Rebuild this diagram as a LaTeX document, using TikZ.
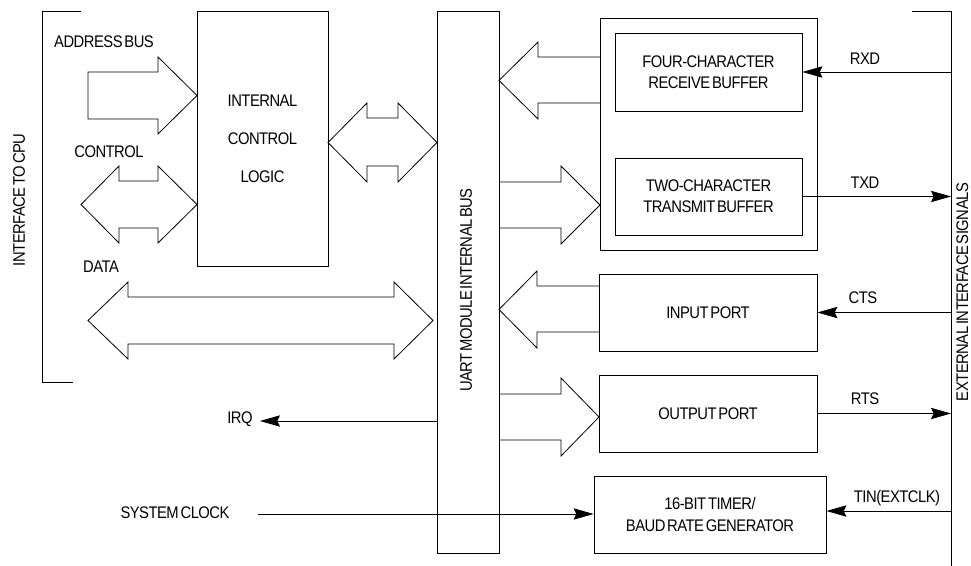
\documentclass[tikz,border=0pt]{standalone}
\usepackage{fontspec}
\setmainfont{Liberation Sans}[FakeStretch=0.88,LetterSpace=-3,WordSpace=0.5]
\usetikzlibrary{arrows.meta}
\tikzset{
  every node/.style={font=\fontsize{12.6}{16}\selectfont, inner sep=0pt},
  box/.style={draw, line width=0.6pt},
  fat/.style={draw, line width=0.6pt, line join=miter},
  wire/.style={line width=0.6pt},
  sig/.style={line width=0.6pt, -{Stealth[length=15pt,width=8.5pt,inset=2pt]}},
}
\begin{document}
\begin{tikzpicture}[x=0.75pt,y=-0.75pt]
\useasboundingbox (0,0) rectangle (971,566);
% boxes
\node[box, minimum width=98.25pt, minimum height=191.25pt, align=center] (ctrl) at (262.5,138.5)
  {INTERNAL\\[12.5pt]CONTROL\\[12.5pt]LOGIC};
\node[box, minimum width=46.5pt, minimum height=406.5pt] (bus) at (468,282) {};
\node[rotate=90] (buslabel) at (466,290) {UART MODULE INTERNAL BUS};
\node[box, minimum width=162.75pt, minimum height=174pt] (outer) at (708.5,134) {};
\node[box, minimum width=140.25pt, minimum height=58.5pt, align=center] (rx) at (708.5,72)
  {FOUR-CHARACTER\\RECEIVE BUFFER};
\node[box, minimum width=140.25pt, minimum height=57.75pt, align=center] (tx) at (708.5,196.5)
  {TWO-CHARACTER\\TRANSMIT BUFFER};
\node[box, minimum width=163.5pt, minimum height=57.75pt] (inport) at (708,312.5) {INPUT PORT};
\node[box, minimum width=163.5pt, minimum height=57.75pt] (outport) at (708,413.5) {OUTPUT PORT};
\node[box, minimum width=174pt, minimum height=57.75pt, align=center] (timer) at (710,514.5)
  {16-BIT TIMER/\\[1pt]BAUD RATE GENERATOR};
% brackets
\draw[wire] (81,11) -- (42,11) -- (42,382) -- (73,382);
\coordinate (extTop) at (951,11);
\coordinate (extBot) at (951,566);
\draw[wire] (912,11) -- (extTop) -- (extBot);
\node[rotate=90] (cpulabel) at (19,200) {INTERFACE TO CPU};
\node[rotate=90, anchor=north] (extlabel) at (956,292) {EXTERNAL INTERFACE SIGNALS};
% labels
\node (addr) at (104,42) {ADDRESS BUS};
\node (ctl) at (109,152) {CONTROL};
\node (data) at (101,267) {DATA};
\node (irq) at (240,419) {IRQ};
\node (sysclk) at (175,513) {SYSTEM CLOCK};
\node (rxd) at (865,59) {RXD};
\node (txd) at (865,183) {TXD};
\node (cts) at (863,298) {CTS};
\node (rts) at (865,399) {RTS};
\node (tin) at (897,498) {TIN(EXTCLK)};
% fat arrows
\draw[fat] (88,72) -- (158,72) -- (158,57) -- (197,95.5) -- (158,134) -- (158,119) -- (88,119) -- cycle;
\draw[fat] (81,204.5) -- (119,166) -- (119,181) -- (158,181) -- (158,166) -- (197,204.5)
  -- (158,243) -- (158,228) -- (119,228) -- (119,243) -- cycle;
\draw[fat] (328,142.5) -- (367,103) -- (367,118) -- (398,118) -- (398,103) -- (437,142.5)
  -- (398,182) -- (398,166) -- (367,166) -- (367,182) -- cycle;
\draw[fat] (88,320.5) -- (128,282) -- (128,297) -- (394,297) -- (394,282) -- (433,320.5)
  -- (394,359) -- (394,344) -- (128,344) -- (128,359) -- cycle;
\draw[fat] (600,57) -- (538,57) -- (538,42) -- (499,80.5) -- (538,119) -- (538,103) -- (600,103);
\draw[fat] (499,182) -- (561,182) -- (561,166) -- (600,205) -- (561,244) -- (561,228) -- (499,228);
\draw[fat] (599,286) -- (537,286) -- (537,271) -- (499,309.5) -- (537,348) -- (537,332) -- (599,332);
\draw[fat] (499,394) -- (561,394) -- (561,378) -- (599,417) -- (561,456) -- (561,440) -- (499,440);
% signal wires
\draw[sig] (extTop |- rx.east) -- (rx.east);
\draw[sig] (tx.east) -- (extTop |- tx.east);
\draw[sig] (extTop |- inport.east) -- (inport.east);
\draw[sig] (outport.east) -- (extTop |- outport.east);
\coordinate (tinY) at (0,511);
\draw[sig] (extTop |- tinY) -- (timer.east |- tinY);
\coordinate (clkStart) at (258,514);
\draw[sig] (clkStart) -- (timer.west |- clkStart);
\coordinate (irqTip) at (260,421);
\draw[sig] (bus.west |- irqTip) -- (irqTip);
\end{tikzpicture}
\end{document}
